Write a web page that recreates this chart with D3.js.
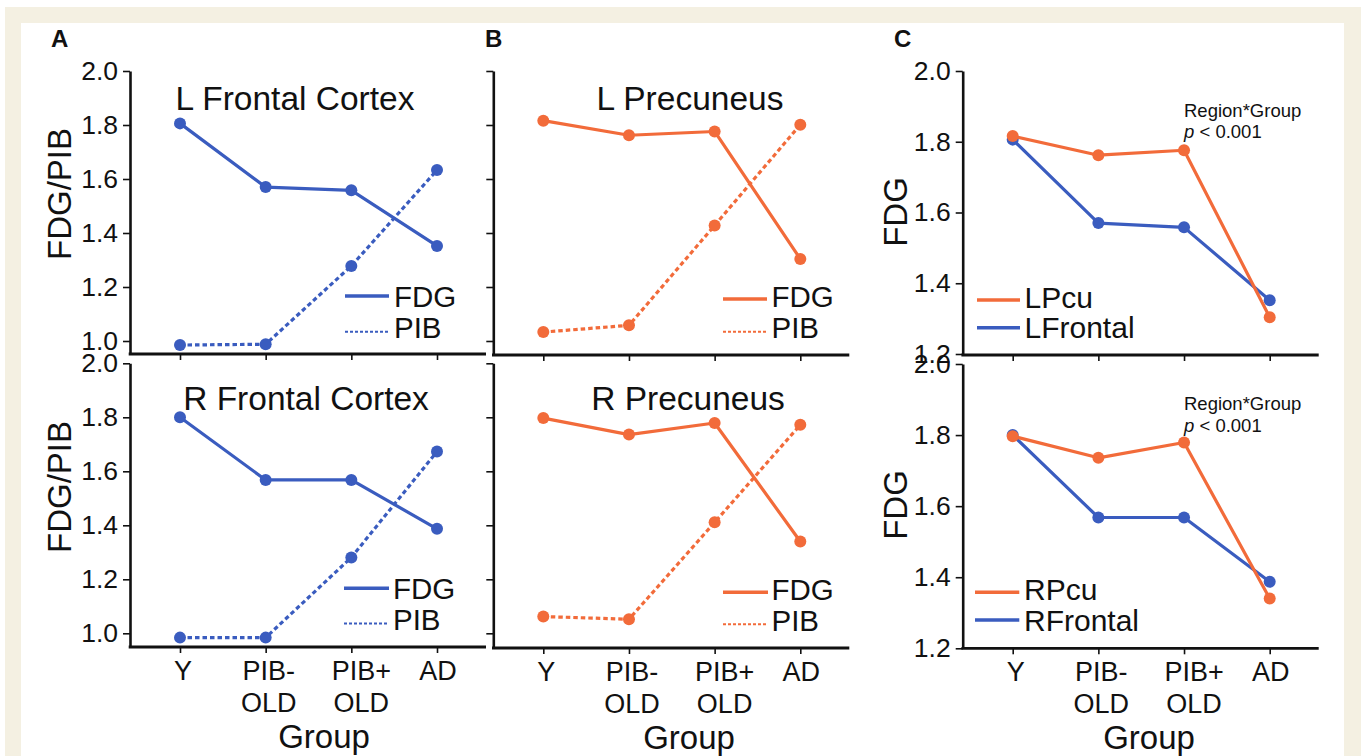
<!DOCTYPE html>
<html>
<head>
<meta charset="utf-8">
<script src="https://cdn.jsdelivr.net/npm/d3@7"></script>
<style>
  html, body { margin: 0; padding: 0; background: #ffffff; }
  svg { display: block; }
  text { font-family: "Liberation Sans", Arial, Helvetica, sans-serif; fill: #111; }
</style>
</head>
<body>
<svg id="chart" width="1361" height="756"></svg>
<script>
// ---------------- DATA ----------------
const groupsLine1 = ["Y", "PIB-", "PIB+", "AD"];
const groupsLine2 = ["", "OLD", "OLD", ""];
const yTicksAB = [1.0, 1.2, 1.4, 1.6, 1.8, 2.0];
const yTicksC  = [1.2, 1.4, 1.6, 1.8, 2.0];

const lFrontalFDG = [1.806, 1.570, 1.558, 1.352];
const lFrontalPIB = [0.985, 0.988, 1.278, 1.633];
const rFrontalFDG = [1.800, 1.568, 1.568, 1.387];
const rFrontalPIB = [0.984, 0.984, 1.281, 1.673];
const lPrecFDG    = [1.816, 1.762, 1.776, 1.304];
const lPrecPIB    = [1.033, 1.058, 1.428, 1.801];
const rPrecFDG    = [1.797, 1.736, 1.779, 1.340];
const rPrecPIB    = [1.062, 1.052, 1.411, 1.772];

const titles = ["L Frontal Cortex", "R Frontal Cortex", "L Precuneus", "R Precuneus"];
const legendAB = ["FDG", "PIB"];
const legendCTop = ["LPcu", "LFrontal"];
const legendCBot = ["RPcu", "RFrontal"];
const annotation = ["Region*Group", "< 0.001"];

// ---------------- STYLE ----------------
const BLUE = "#3a5cbf";
const ORANGE = "#f26b3a";
const labelDx = [3, 3, 10, 1];

const svg = d3.select("#chart");
svg.append("rect").attr("x", 0).attr("y", 0).attr("width", 1361).attr("height", 756).attr("fill", "#ffffff");
svg.append("rect").attr("x", 5).attr("y", 7).attr("width", 1356).attr("height", 749).attr("fill", "#f4f0e2");
svg.append("rect").attr("x", 21).attr("y", 23).attr("width", 1323).attr("height", 733).attr("fill", "#ffffff");

function drawPanel(cfg) {
  const g = svg.append("g");
  const lin = d3.scaleLinear().domain([cfg.lowVal, 2]).range([cfg.lowPx, cfg.topPx]);
  const y = d3.scaleLinear().domain([lin.invert(cfg.baseY), 2]).range([cfg.baseY, cfg.topPx]);
  const x = d3.scalePoint().domain(groupsLine1).range([cfg.axisX + 50, cfg.axisX + 307]);

  // y axis
  const ya = g.append("g").attr("transform", `translate(${cfg.axisX},0)`)
    .call(d3.axisLeft(y).tickValues(cfg.yTicks).tickSize(7).tickSizeOuter(0).tickPadding(5)
      .tickFormat(cfg.showYLabels ? d3.format(".1f") : () => ""));
  ya.attr("font-size", null).attr("font-family", null);
  ya.select(".domain").attr("stroke", "#111").attr("stroke-width", 2.6);
  ya.selectAll(".tick line").attr("stroke", "#111").attr("stroke-width", 1.6);
  ya.selectAll(".tick text").style("font-size", "26.5px").attr("fill", "#111");

  // x axis
  const xa = g.append("g").attr("transform", `translate(0,${cfg.baseY})`)
    .call(d3.axisBottom(x).tickSize(6).tickSizeOuter(0).tickFormat(() => ""));
  xa.select(".domain").remove();
  xa.selectAll(".tick line").attr("stroke", "#111").attr("stroke-width", 1.6);
  g.append("line").attr("x1", cfg.axisX - 1.3).attr("x2", cfg.axisX + 356)
    .attr("y1", cfg.baseY).attr("y2", cfg.baseY).attr("stroke", "#111").attr("stroke-width", 2.8);

  if (cfg.xLabels) {
    groupsLine1.forEach((lab, i) => {
      const t = g.append("text").attr("x", x(lab) + labelDx[i]).attr("y", cfg.baseY + 33)
        .attr("text-anchor", "middle").style("font-size", "27px");
      t.append("tspan").attr("x", x(lab) + labelDx[i]).text(lab);
      if (groupsLine2[i]) t.append("tspan").attr("x", x(lab) + labelDx[i]).attr("dy", 31.7).text(groupsLine2[i]);
    });
    g.append("text").attr("x", cfg.groupX).attr("y", cfg.baseY + 101)
      .attr("text-anchor", "middle").style("font-size", "33px").text("Group");
  }

  // series
  cfg.series.forEach(s => {
    const line = d3.line().x((d, i) => x(groupsLine1[i])).y(d => y(d));
    g.append("path").datum(s.values).attr("d", line).attr("fill", "none")
      .attr("stroke", s.color).attr("stroke-width", 3.2)
      .attr("stroke-dasharray", s.dashed ? "4.5,3" : null)
      .attr("stroke-linejoin", "round");
    g.selectAll(null).data(s.values).enter().append("circle")
      .attr("cx", (d, i) => x(groupsLine1[i])).attr("cy", d => y(d)).attr("r", 6)
      .attr("fill", s.color);
  });

  // title
  if (cfg.title) {
    g.append("text").attr("x", cfg.titleX).attr("y", cfg.titleY).attr("text-anchor", "middle")
      .style("font-size", "33.5px").text(cfg.title);
  }
  // y label
  if (cfg.yLabel) {
    g.append("text").attr("transform", `translate(${cfg.yLabelX},${cfg.yLabelY}) rotate(-90)`)
      .attr("text-anchor", "middle").style("font-size", "33px").text(cfg.yLabel);
  }
  // legend
  const L = cfg.legend;
  L.items.forEach((it, i) => {
    g.append("line").attr("x1", L.x1).attr("x2", L.x2).attr("y1", L.lineY[i]).attr("y2", L.lineY[i])
      .attr("stroke", it.color).attr("stroke-width", it.dashed ? 2 : 3.6)
      .attr("stroke-dasharray", it.dashed ? "3,2" : null);
    g.append("text").attr("x", L.tx).attr("y", L.textY[i]).style("font-size", L.fs + "px").text(it.label);
  });
  // annotation
  if (cfg.annot) {
    g.append("text").attr("x", cfg.annot.x).attr("y", cfg.annot.y1).style("font-size", "18.5px").text(annotation[0]);
    const t = g.append("text").attr("x", cfg.annot.x).attr("y", cfg.annot.y2).style("font-size", "18.5px");
    t.append("tspan").style("font-style", "italic").text("p");
    t.append("tspan").text(" " + annotation[1]);
  }
}

// Panel A
drawPanel({axisX: 130, topPx: 71, lowPx: 341, lowVal: 1.0, baseY: 354, yTicks: yTicksAB, showYLabels: true,
  series: [{values: lFrontalPIB, color: BLUE, dashed: true}, {values: lFrontalFDG, color: BLUE}],
  title: titles[0], titleX: 295, titleY: 110, yLabel: "FDG/PIB", yLabelX: 71, yLabelY: 194,
  legend: {x1: 345, x2: 389, tx: 394, fs: 29.5, lineY: [296, 331.7], textY: [306.7, 338],
    items: [{label: legendAB[0], color: BLUE}, {label: legendAB[1], color: BLUE, dashed: true}]}});
drawPanel({axisX: 130, topPx: 363.3, lowPx: 633.3, lowVal: 1.0, baseY: 647, yTicks: yTicksAB, showYLabels: true,
  series: [{values: rFrontalPIB, color: BLUE, dashed: true}, {values: rFrontalFDG, color: BLUE}],
  title: titles[1], titleX: 306, titleY: 410, yLabel: "FDG/PIB", yLabelX: 71, yLabelY: 487,
  xLabels: true, groupX: 324,
  legend: {x1: 344, x2: 389, tx: 393, fs: 29.5, lineY: [588.3, 623.5], textY: [598.5, 630],
    items: [{label: legendAB[0], color: BLUE}, {label: legendAB[1], color: BLUE, dashed: true}]}});

// Panel B
drawPanel({axisX: 493.3, topPx: 71, lowPx: 341, lowVal: 1.0, baseY: 355, yTicks: yTicksAB, showYLabels: false,
  series: [{values: lPrecPIB, color: ORANGE, dashed: true}, {values: lPrecFDG, color: ORANGE}],
  title: titles[2], titleX: 690, titleY: 110,
  legend: {x1: 723, x2: 767, tx: 771.5, fs: 29.5, lineY: [299, 331.7], textY: [306.7, 338],
    items: [{label: legendAB[0], color: ORANGE}, {label: legendAB[1], color: ORANGE, dashed: true}]}});
drawPanel({axisX: 493.3, topPx: 363.3, lowPx: 633.3, lowVal: 1.0, baseY: 648, yTicks: yTicksAB, showYLabels: false,
  series: [{values: rPrecPIB, color: ORANGE, dashed: true}, {values: rPrecFDG, color: ORANGE}],
  title: titles[3], titleX: 688, titleY: 410, xLabels: true, groupX: 689,
  legend: {x1: 723, x2: 768, tx: 771.5, fs: 29.5, lineY: [592.3, 624.3], textY: [600, 630.7],
    items: [{label: legendAB[0], color: ORANGE}, {label: legendAB[1], color: ORANGE, dashed: true}]}});

// Panel C
drawPanel({axisX: 962.7, topPx: 71, lowPx: 354, lowVal: 1.2, baseY: 355, yTicks: yTicksC, showYLabels: true,
  series: [{values: lFrontalFDG, color: BLUE}, {values: lPrecFDG, color: ORANGE}],
  yLabel: "FDG", yLabelX: 906.5, yLabelY: 212,
  annot: {x: 1184, y1: 116.7, y2: 138},
  legend: {x1: 977, x2: 1020, tx: 1024.5, fs: 30, lineY: [300, 327.7], textY: [308, 338],
    items: [{label: legendCTop[0], color: ORANGE}, {label: legendCTop[1], color: BLUE}]}});
drawPanel({axisX: 962.7, topPx: 364, lowPx: 648.3, lowVal: 1.2, baseY: 648.3, yTicks: yTicksC, showYLabels: true,
  series: [{values: rFrontalFDG, color: BLUE}, {values: rPrecFDG, color: ORANGE}],
  yLabel: "FDG", yLabelX: 906.5, yLabelY: 505, xLabels: true, groupX: 1149,
  annot: {x: 1184, y1: 410, y2: 431.7},
  legend: {x1: 975, x2: 1019.3, tx: 1024, fs: 30, lineY: [592.3, 620], textY: [600, 630.7],
    items: [{label: legendCBot[0], color: ORANGE}, {label: legendCBot[1], color: BLUE}]}});

// Panel letters
[["A", 51], ["B", 485], ["C", 894]].forEach(([l, px]) => {
  svg.append("text").attr("x", px).attr("y", 47).style("font-size", "24px").style("font-weight", "bold").text(l);
});
</script>
</body>
</html>
